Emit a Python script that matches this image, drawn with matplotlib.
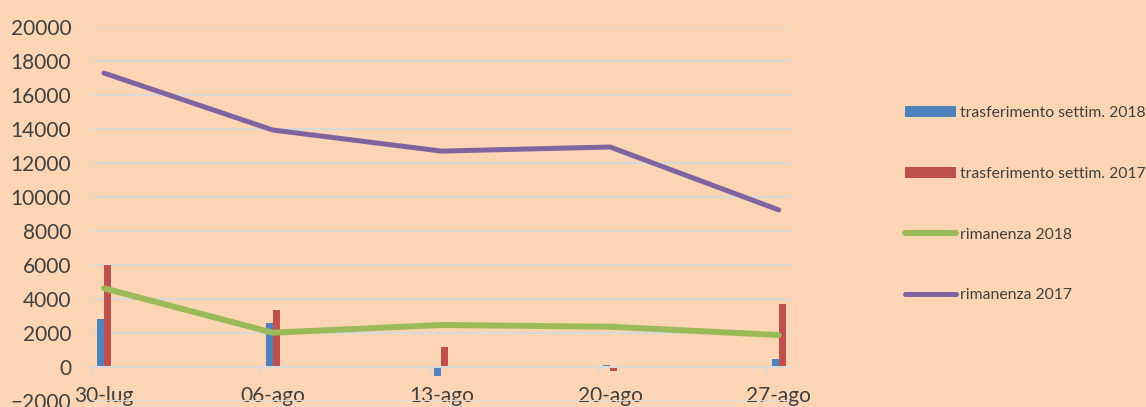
import matplotlib
matplotlib.use('Agg')
import matplotlib.pyplot as plt
import numpy as np

# data
weeks = ['30-lug', '06-ago', '13-ago', '20-ago', '27-ago']
trasf_2018 = [2850, 2600, -500, 100, 450]
trasf_2017 = [6000, 3350, 1200, -250, 3700]
riman_2018 = [4630, 2020, 2470, 2370, 1880]
riman_2017 = [17290, 13940, 12700, 12940, 9240]

bg = '#fcd5b4'
grid_col = '#d9d9d9'
plt.rcParams['font.family'] = ['Lato', 'DejaVu Sans']

fig = plt.figure(figsize=(11.46, 4.07), dpi=100, facecolor=bg)
ax = fig.add_axes([0.0803, 0.0147, 0.6088, 0.919])
ax.set_facecolor(bg)

x = np.arange(len(weeks))
w = 0.042
b1 = ax.bar(x - w / 2, trasf_2018, w, color='#4f81bd', label='trasferimento settim. 2018', zorder=2)
b2 = ax.bar(x + w / 2, trasf_2017, w, color='#c0504d', label='trasferimento settim. 2017', zorder=2)
l1, = ax.plot(x, riman_2018, color='#9bbb59', lw=4.3, solid_capstyle='round', label='rimanenza 2018', zorder=3)
l2, = ax.plot(x, riman_2017, color='#8064a2', lw=3.6, solid_capstyle='round', label='rimanenza 2017', zorder=3)

ax.set_ylim(-2000, 20000)
ax.set_xlim(-0.071, 4.065)
ax.set_yticks(np.arange(-2000, 20001, 2000))
ax.yaxis.grid(True, color=grid_col, lw=1.5, zorder=0)
ax.set_axisbelow(True)

for s in ['top', 'right', 'left']:
    ax.spines[s].set_visible(False)
ax.spines['bottom'].set_position(('data', 0))
ax.spines['bottom'].set_color(grid_col)
ax.spines['bottom'].set_linewidth(1.5)

ax.set_xticks(x)
ax.set_xticklabels(weeks)
ax.set_xticks(x - 0.07, minor=True)
ax.tick_params(axis='x', which='major', length=0, pad=14, labelsize=15, labelcolor='#404040')
ax.tick_params(axis='x', which='minor', length=5, width=1.5, color=grid_col, direction='out')
ax.tick_params(axis='y', length=0, pad=15, labelsize=15, labelcolor='#404040')

fig.legend(handles=[b1, b2, l1, l2], loc='upper left', bbox_to_anchor=(0.777, 0.775),
           frameon=False, fontsize=11.3, labelspacing=2.99, handlelength=3.3,
           handletextpad=0.25, labelcolor='#404040')

plt.savefig('out.png', dpi=100, facecolor=bg)
plt.close()
